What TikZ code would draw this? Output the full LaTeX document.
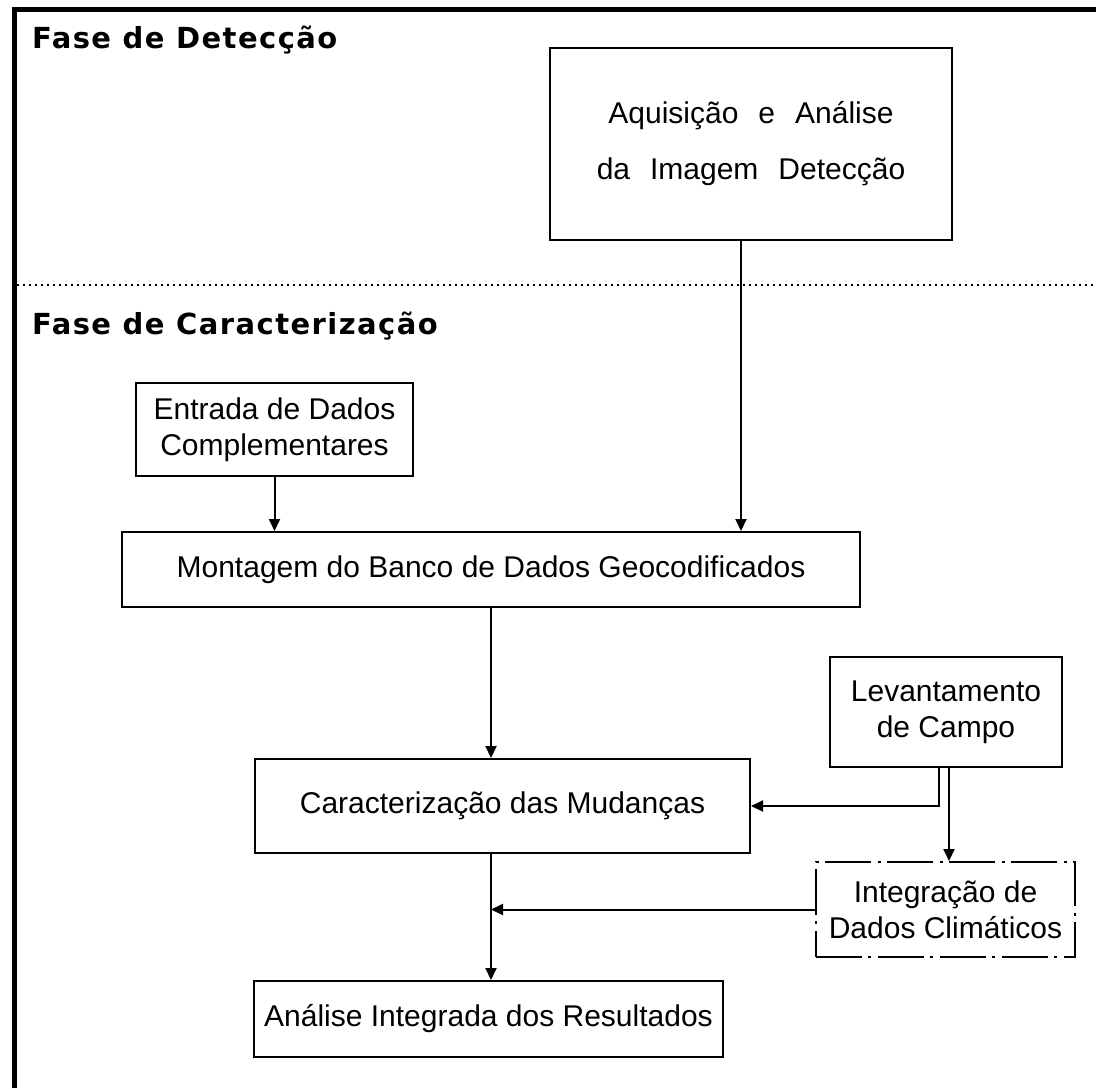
\documentclass[tikz,border=0pt]{standalone}
\usepackage{fontspec}
\setmainfont{Liberation Sans}
\newfontfamily\titlefont[LetterSpace=5]{DejaVu Sans}
\newcommand\espacado{\spaceskip=20pt\relax}
\usetikzlibrary{arrows.meta}
\tikzset{
  caixa/.style={draw, line width=2pt, inner sep=0pt, align=center,
    font=\fontsize{30}{36}\selectfont},
  traco/.style={line width=2pt},
  titulo/.style={anchor=west, inner sep=0pt,
    font=\titlefont\bfseries\fontsize{29}{32}\selectfont},
}

\begin{document}
\begin{tikzpicture}[x=1pt, y=-1pt, >={Triangle[length=12pt,width=11pt]}]
	 \useasboundingbox (0,0) rectangle (1096,1088);
	 %moldura
	 \draw[line width=5pt] (14.5,1088) -- (14.5,9.5) -- (1096,9.5);
	 \draw[line width=2.5pt, dash pattern=on 2pt off 4pt] (17,285) -- (1096,285);
	 
	 %Fases
	 \node[titulo] (f1) at (32,40) {Fase de Detecção};
	 \node[titulo] (f2) at (32,326) {Fase de Caracterização};
	 
	 %Caixas
	 \node[caixa, minimum width=402pt, minimum height=192pt] (aq) at (751,144)
	   {\espacado Aquisição e Análise\\[20pt]\espacado da Imagem Detecção};
	 \node[caixa, minimum width=277pt, minimum height=93pt] (ent) at (274.5,429.5)
	   {Entrada de Dados\\Complementares};
	 \node[caixa, minimum width=738pt, minimum height=75pt] (mon) at (491,569.5)
	   {Montagem do Banco de Dados Geocodificados};
	 \node[caixa, minimum width=232pt, minimum height=110pt] (lev) at (946,712)
	   {Levantamento\\de Campo};
	 \node[caixa, minimum width=495pt, minimum height=94pt] (car) at (502.5,806)
	   {Caracterização das Mudanças};
	 \node[caixa, dash pattern=on 46pt off 6pt on 3pt off 7pt,
	   minimum width=259pt, minimum height=95pt] (integ) at (945.5,909.5)
	   {Integração de\\Dados Climáticos};
	 \node[caixa, minimum width=469pt, minimum height=76pt] (ana) at (488.5,1019)
	   {Análise Integrada dos Resultados};
	 
	 %Setas
	 \draw[->,traco] ([xshift=-10pt]aq.south) -- ([xshift=-10pt]aq.south |- mon.north);
	 \draw[->,traco] (ent.south) -- (ent.south |- mon.north);
	 \draw[->,traco] (mon.south) -- (mon.south |- car.north);
	 \draw[->,traco] ([xshift=-7pt]lev.south) |- (car.east);
	 \draw[->,traco] ([xshift=3pt]lev.south) -- ([xshift=3pt]lev.south |- integ.north);
	 \draw[->,traco] (car.south -| mon.south) -- (ana.north -| mon.south);
	 \draw[->,traco] (integ.west) -- (integ.west -| mon.south);
\end{tikzpicture}
\end{document}
